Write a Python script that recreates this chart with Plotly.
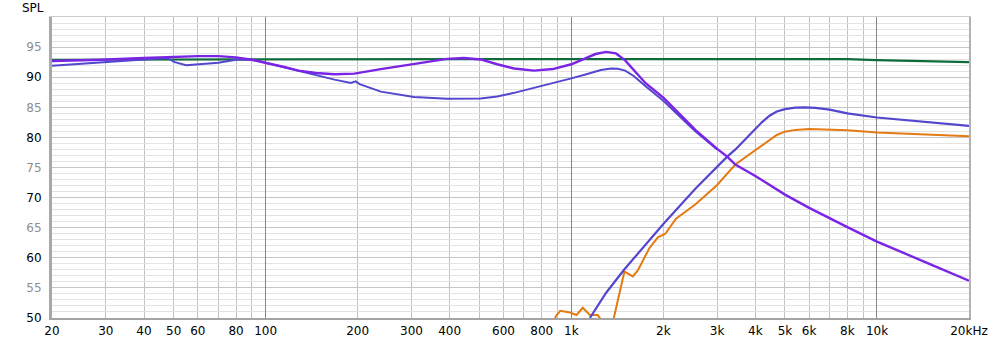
import math
import plotly.graph_objects as go

# ---------------- data ----------------
green_freq = [20, 50, 100, 200, 500, 1000, 2000, 5000, 8000, 10000, 14000, 17000, 20000]
green_spl = [92.9, 92.95, 93.0, 93.0, 93.0, 93.0, 93.0, 93.05, 93.0, 92.85, 92.7, 92.6, 92.5]

woofer_freq = [20, 29, 40, 47.6, 50.4, 55, 60, 70, 80, 90, 100, 122, 146, 168, 190, 197, 203,
               238, 306, 392, 505, 572, 650, 755, 870, 1000, 1120, 1250, 1350, 1420, 1500,
               1600, 1750, 2000, 2250, 2550, 3000]
woofer_spl = [91.9, 92.4, 92.95, 93.2, 92.5, 92.0, 92.15, 92.4, 92.9, 92.95, 92.4, 91.3, 90.3,
              89.6, 89.05, 89.3, 88.85, 87.6, 86.7, 86.4, 86.45, 86.8, 87.4, 88.2, 89.0, 89.8,
              90.5, 91.2, 91.45, 91.4, 91.1, 90.2, 88.5, 86.1, 83.6, 81.0, 78.0]

tweeter_freq = [1150, 1300, 1492, 1712, 2000, 2550, 3236, 3443, 3750, 4000, 4200, 4450, 4700,
                5000, 5400, 5800, 6300, 7000, 8000, 10000, 15300, 20000]
tweeter_spl = [50.0, 54.2, 58.1, 61.6, 65.6, 71.5, 76.8, 78.0, 79.9, 81.3, 82.5, 83.6, 84.3,
               84.7, 84.95, 85.0, 84.9, 84.6, 84.0, 83.3, 82.4, 81.9]

orange_freq = [860, 890, 920, 990, 1040, 1090, 1150, 1220, 1260, 1300, 1370, 1438, 1492, 1590,
               1650, 1800, 1920, 2030, 2200, 2550, 3000, 3440, 4000, 4450, 4700, 5000, 5400,
               6000, 8000, 10000, 15300, 20000]
orange_spl = [48.0, 50.3, 51.2, 50.9, 50.5, 51.7, 50.5, 50.5, 49.5, 47.0, 49.5, 54.4, 57.7,
              56.9, 57.9, 61.6, 63.4, 64.0, 66.5, 68.9, 72.1, 75.5, 77.8, 79.5, 80.4, 80.95,
              81.25, 81.4, 81.2, 80.8, 80.4, 80.2]

sum_freq = [20, 29, 40, 50, 60, 70, 80, 90, 100, 115, 128, 146, 168, 195, 238, 306, 392, 445,
            505, 572, 650, 755, 870, 1000, 1120, 1200, 1300, 1400, 1500, 1600, 1750, 2000,
            2250, 2550, 3000, 3236, 3440, 4000, 5000, 6000, 8000, 10000, 15300, 20000]
sum_spl = [92.7, 92.9, 93.2, 93.4, 93.5, 93.5, 93.3, 92.9, 92.4, 91.7, 91.1, 90.7, 90.5, 90.6,
           91.35, 92.25, 93.05, 93.2, 92.95, 92.15, 91.45, 91.1, 91.35, 92.15, 93.2, 93.85,
           94.2, 93.95, 92.8, 91.2, 89.0, 86.6, 83.9, 81.2, 78.1, 76.8, 75.5, 73.6, 70.5,
           68.3, 65.1, 62.7, 58.7, 56.2]

x_tick_vals = [20, 30, 40, 50, 60, 80, 100, 200, 300, 400, 600, 800, 1000, 2000, 3000, 4000,
               5000, 6000, 8000, 10000, 20000]
x_tick_text = ["20", "30", "40", "50", "60", "80", "100", "200", "300", "400", "600", "800",
               "1k", "2k", "3k", "4k", "5k", "6k", "8k", "10k", "20kHz"]
x_grid_vals = [20, 30, 40, 50, 60, 70, 80, 90, 200, 300, 400, 500, 600, 700, 800, 900,
               2000, 3000, 4000, 5000, 6000, 7000, 8000, 9000, 20000]
decade_vals = [100, 1000, 10000]
y_tick_vals = [50, 55, 60, 65, 70, 75, 80, 85, 90, 95]

# ---------------- styling ----------------
GREEN = "#0f6b3c"
BLUE = "#5346cf"
ORANGE = "#e47a12"
PURPLE = "#7a24e6"
FONT = "DejaVu Sans"

y_tick_text = [
    (f"{v}" if v % 10 == 0 else f"<span style='color:#8e8e8e'>{v}</span>")
    for v in y_tick_vals
]

fig = go.Figure()
series = [
    (green_freq, green_spl, GREEN, 2.2, "x", "y"),
    (woofer_freq, woofer_spl, BLUE, 2.0, "x", "y"),
    (orange_freq, orange_spl, ORANGE, 2.0, "x", "y"),
    (tweeter_freq, tweeter_spl, BLUE, 2.2, "x", "y"),
    (sum_freq, sum_spl, PURPLE, 2.4, "x2", "y2"),
]
for fx, fy, col, w, xa, ya in series:
    fig.add_trace(go.Scatter(x=fx, y=fy, mode="lines", line=dict(color=col, width=w),
                             showlegend=False, hoverinfo="skip", xaxis=xa, yaxis=ya))

xr = [math.log10(20), math.log10(20000)]
fig.update_layout(
    width=1000, height=350,
    margin=dict(l=52, r=25, t=17, b=23),
    paper_bgcolor="white", plot_bgcolor="white",
    font=dict(family=FONT, size=12, color="#000000"),
    xaxis=dict(
        type="log", range=xr, tickmode="array", tickvals=x_tick_vals, ticktext=x_tick_text,
        showgrid=False, zeroline=False, ticks="", ticklabelstandoff=1,
        showline=True, linecolor="#a4a4a4", linewidth=2,
        minor=dict(tickmode="array", tickvals=x_grid_vals, showgrid=True,
                   gridcolor="#c2c2c2", gridwidth=1, ticks=""),
        tickfont=dict(family=FONT, size=12, color="#000000"),
    ),
    xaxis2=dict(
        type="log", range=xr, overlaying="x", side="top", tickmode="array",
        tickvals=decade_vals, showticklabels=False, ticks="",
        showgrid=True, gridcolor="#858585", gridwidth=1, zeroline=False,
        showline=True, linecolor="#cccccc", linewidth=1,
    ),
    yaxis=dict(
        range=[50, 100], tickmode="array", tickvals=y_tick_vals, ticktext=y_tick_text,
        showgrid=True, gridcolor="#c6c6c6", gridwidth=1, zeroline=False, ticks="",
        ticklabelstandoff=5,
        showline=True, linecolor="#a8a8a8", linewidth=3,
        minor=dict(dtick=1, showgrid=True, gridcolor="#e3e3e3", gridwidth=1, ticks=""),
        tickfont=dict(family=FONT, size=12, color="#000000"),
    ),
    yaxis2=dict(
        range=[50, 100], overlaying="y", side="right", showticklabels=False, ticks="",
        showgrid=False, zeroline=False, showline=True, linecolor="#b2b2b2", linewidth=2,
    ),
    annotations=[dict(text="SPL", xref="paper", yref="paper", x=-0.006, y=1.0,
                      xanchor="right", yanchor="bottom", yshift=0, showarrow=False,
                      font=dict(family=FONT, size=12, color="#000000"))],
)

fig.write_html("out.html")
